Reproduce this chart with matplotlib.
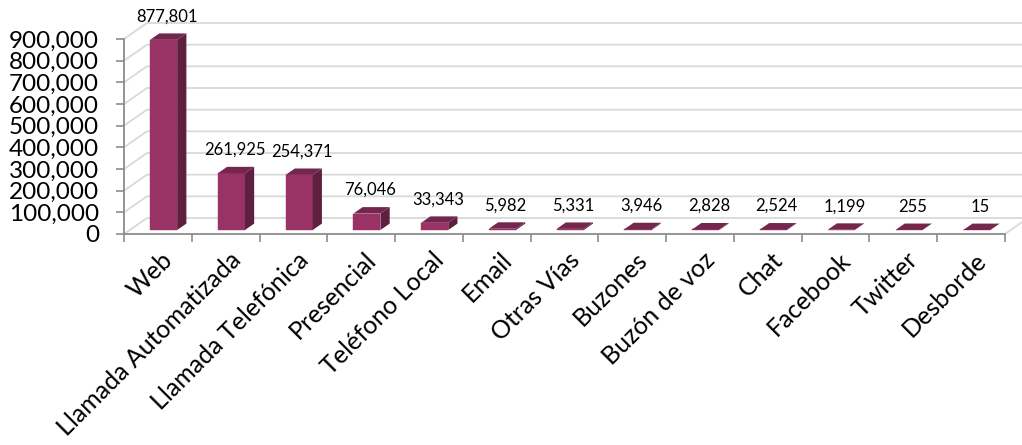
import matplotlib
matplotlib.use("Agg")
import matplotlib.pyplot as plt
from matplotlib.ticker import FuncFormatter

# Canales de atención y número de contactos
canales = ["Web", "Llamada Automatizada", "Llamada Telefónica", "Presencial",
           "Teléfono Local", "Email", "Otras Vías", "Buzones", "Buzón de voz",
           "Chat", "Facebook", "Twitter", "Desborde"]
contactos = [877801, 261925, 254371, 76046, 33343, 5982, 5331, 3946, 2828,
             2524, 1199, 255, 15]
marcas_y = [0, 100000, 200000, 300000, 400000, 500000, 600000, 700000,
            800000, 900000]

plt.rcParams['font.family'] = ['Lato', 'DejaVu Sans']

W, H = 1022, 445
fig = plt.figure(figsize=(W / 100, H / 100), dpi=100)
# eje frontal: x de 124 a 1005 px, y=0 en 234 px, y=900000 en 39 px
ax = fig.add_axes([124 / W, (H - 234) / H, 881 / W, 195 / H])
n = len(canales)
ymax = 900000
ax.set_xlim(0, n)
ax.set_ylim(0, ymax)
for s in ax.spines.values():
    s.set_visible(False)

# profundidad de la perspectiva (en unidades de datos)
px_x = n / 881.0
px_y = ymax / 195.0
DX = 23 * px_x
DY = 16 * px_y

gris = "#d9d9d9"
gris_eje = "#8c8c8c"

# pared de fondo y pared lateral
for t in marcas_y:
    ax.plot([0, DX, n + DX + 1], [t, t + DY, t + DY], color=gris, lw=1.3,
            clip_on=False, zorder=1)
ax.plot([n, n + DX], [0, DY], color=gris, lw=1.3, clip_on=False, zorder=1)

# ejes frontales
ax.plot([0, 0], [0, ymax], color=gris_eje, lw=1.3, clip_on=False, zorder=2)
ax.plot([0, n], [0, 0], color=gris_eje, lw=1.3, clip_on=False, zorder=2)

ax.set_yticks(marcas_y)
ax.yaxis.set_major_formatter(FuncFormatter(lambda v, p: f"{int(v):,}"))
ax.tick_params(axis='y', length=6, width=1.2, color=gris_eje, labelsize=17.5,
               pad=12)
ax.set_xticks(range(n + 1))
ax.set_xticklabels([])
ax.tick_params(axis='x', length=6, width=1.2, color=gris_eje)

# barras 3D simuladas
f = 0.25       # posición de la cara frontal dentro de la profundidad
prof = 0.4     # profundidad de la barra
ancho = 0.4
c_frente = "#993366"
c_lado = "#5f1f40"
c_tapa = "#74264d"
for i, v in enumerate(contactos):
    x0 = i + 0.5 - ancho / 2 + f * DX
    x1 = x0 + ancho
    base = f * DY
    tope = base + v
    ddx, ddy = prof * DX, prof * DY
    ax.bar(x0, v, width=ancho, bottom=base, align='edge', color=c_frente,
           edgecolor=c_frente, lw=0.3, zorder=5, clip_on=False)
    ax.fill([x1, x1 + ddx, x1 + ddx, x1], [base, base + ddy, tope + ddy, tope],
            color=c_lado, zorder=5, clip_on=False, lw=0)
    ax.fill([x0, x1, x1 + ddx, x0 + ddx], [tope, tope, tope + ddy, tope + ddy],
            color=c_tapa, zorder=6, clip_on=False, lw=0)
    ax.annotate(f"{v:,}", xy=(x0 + ancho / 2 + ddx / 3, tope + ddy),
                xytext=(0, 17), textcoords='offset pixels', ha='center',
                va='center', fontsize=12, zorder=7, annotation_clip=False)

# etiquetas de categoría rotadas
for i, nombre in enumerate(canales):
    ax.annotate(nombre, xy=(i + 0.5, 0), xytext=(3, -14),
                textcoords='offset pixels', rotation=45, ha='right', va='top',
                rotation_mode='anchor', fontsize=18, annotation_clip=False)

fig.savefig("out.png", dpi=100)
